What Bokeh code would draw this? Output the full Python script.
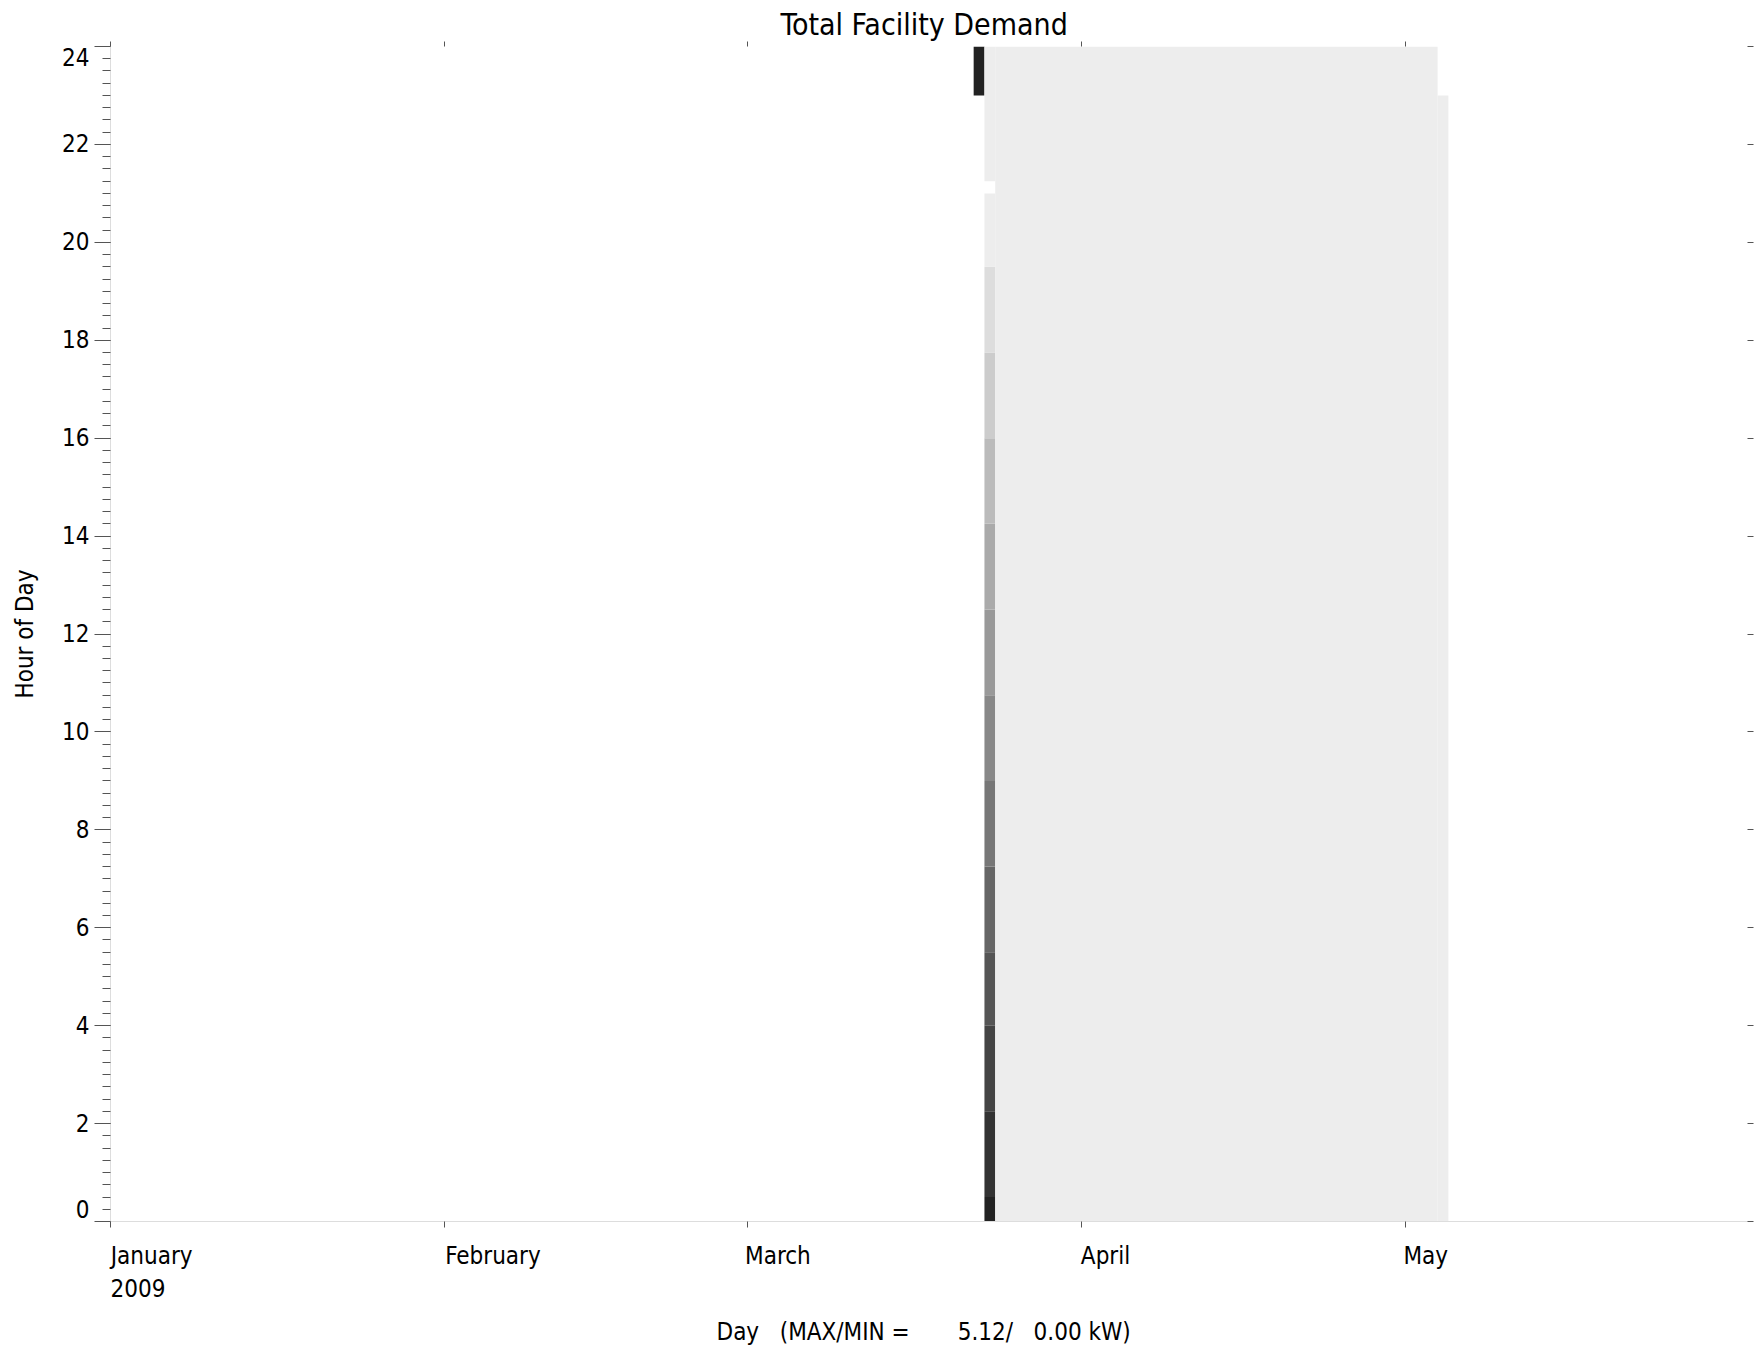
import pandas as pd
from bokeh.plotting import figure
from bokeh.models import (ColumnDataSource, LinearColorMapper, FixedTicker,
                          LinearAxis, Range1d)
from bokeh.embed import file_html
from bokeh.resources import INLINE

# ---------------- data ----------------
year_start = "2009-01-01"
range_end = "2009-06-02"

month_starts = ["2009-01-01", "2009-02-01", "2009-03-01", "2009-04-01", "2009-05-01"]
month_labels = ["January", "February", "March", "April", "May"]
year_label = "2009"

hour_ticks = [0, 2, 4, 6, 8, 10, 12, 14, 16, 18, 20, 22, 24]

# blocks of cells: first day, last day (inclusive), hour from, hour to, demand (kW)
day_from = ["2009-03-22", "2009-03-23", "2009-03-23", "2009-03-23", "2009-03-23",
            "2009-03-23", "2009-03-23", "2009-03-23", "2009-03-23", "2009-03-23",
            "2009-03-23", "2009-03-23", "2009-03-23", "2009-03-23", "2009-03-23",
            "2009-03-24", "2009-05-04"]
day_to = ["2009-03-22", "2009-03-23", "2009-03-23", "2009-03-23", "2009-03-23",
          "2009-03-23", "2009-03-23", "2009-03-23", "2009-03-23", "2009-03-23",
          "2009-03-23", "2009-03-23", "2009-03-23", "2009-03-23", "2009-03-23",
          "2009-05-03", "2009-05-04"]
hour_from = [23.0, 0.0, 0.5, 2.25, 4.0, 5.5, 7.25, 9.0, 10.75, 12.5, 14.25, 16.0,
             17.75, 19.5, 21.25, 0.0, 0.0]
hour_to = [24.0, 0.5, 2.25, 4.0, 5.5, 7.25, 9.0, 10.75, 12.5, 14.25, 16.0, 17.75,
           19.5, 21.0, 24.0, 24.0, 23.0]
demand_kw = [5.12, 4.95, 4.6, 4.2, 3.8, 3.4, 3.0, 2.55, 2.15, 1.7, 1.3, 0.85,
             0.45, 0.0, 0.0, 0.0, 0.0]

kw_max = 5.12
kw_min = 0.00

# ---------------- build ----------------
t0 = pd.Timestamp(year_start)
def dnum(s):
    return (pd.Timestamp(s) - t0).days

src = ColumnDataSource(dict(
    left=[dnum(d) for d in day_from],
    right=[dnum(d) + 1 for d in day_to],
    bottom=hour_from,
    top=hour_to,
    kw=demand_kw,
))

greys = ["#ededed", "#dddddd", "#cccccc", "#bbbbbb", "#aaaaaa", "#999999", "#888888",
         "#777777", "#666666", "#555555", "#444444", "#333333", "#222222"]
mapper = LinearColorMapper(palette=greys, low=kw_min, high=kw_max)

FONT = "Liberation Sans Narrow, DejaVu Sans Condensed, Liberation Sans, sans-serif"
LBL = "24px"
x_end = dnum(range_end)
NB = "\u00a0"

p = figure(frame_width=1640, frame_height=1175,
           min_border_left=110, min_border_right=8, min_border_top=46, min_border_bottom=10,
           x_range=Range1d(0, x_end), y_range=Range1d(0, 24),
           output_backend="svg", toolbar_location=None)

p.quad(left="left", right="right", bottom="bottom", top="top", source=src,
       fill_color={"field": "kw", "transform": mapper}, line_color=None)

p.xgrid.visible = False
p.ygrid.visible = False
p.outline_line_color = None
p.background_fill_color = "white"
p.border_fill_color = "white"

p.title.text = "Total Facility Demand"
p.title.align = "left"
p.title.offset = 670
p.title.text_font = FONT
p.title.text_font_size = "30px"
p.title.text_font_style = "normal"
p.title.text_color = "black"
p.title.standoff = 0

# left axis; the end labels (0 and 24) sit half a line inside the frame
ya = p.yaxis[0]
ya.ticker = FixedTicker(ticks=hour_ticks, minor_ticks=[i * 0.25 for i in range(97)])
ya.major_label_overrides = {0: "0\n", 24: "\n24"}
ya.major_label_text_line_height = 0.83
ya.major_tick_in = 0
ya.major_tick_out = 16
ya.minor_tick_in = 0
ya.minor_tick_out = 8
ya.major_tick_line_color = "#555555"
ya.minor_tick_line_color = "#555555"
ya.axis_line_color = "#dddddd"
ya.major_label_text_font = FONT
ya.major_label_text_font_size = LBL
ya.major_label_text_color = "black"
ya.major_label_standoff = 5
ya.axis_label = "Hour of Day"
ya.axis_label_text_font = FONT
ya.axis_label_text_font_size = LBL
ya.axis_label_text_font_style = "normal"
ya.axis_label_text_color = "black"
ya.axis_label_standoff = 20

# bottom axis: labels start at their tick (leading padding offsets the centring)
month_days = [dnum(m) for m in month_starts]
pad = [12, 14, 9, 7, 6]
labels = [NB * n + l for l, n in zip(month_labels, pad)]
labels[0] = labels[0] + "\n" + NB * 12 + year_label + NB * 4
xa = p.xaxis[0]
xa.ticker = FixedTicker(ticks=month_days, minor_ticks=[])
xa.major_label_overrides = {d: l for d, l in zip(month_days, labels)}
xa.major_tick_in = 0
xa.major_tick_out = 6
xa.minor_tick_out = 0
xa.major_tick_line_color = "#555555"
xa.axis_line_color = "#dddddd"
xa.major_label_text_font = FONT
xa.major_label_text_font_size = LBL
xa.major_label_text_color = "black"
xa.major_label_standoff = 14
xa.axis_label = (f"Day{NB*3}(MAX/MIN ={NB*7}{kw_max:.2f}/{NB*3}{kw_min:.2f} kW){NB*2}")
xa.axis_label_text_font = FONT
xa.axis_label_text_font_size = LBL
xa.axis_label_text_font_style = "normal"
xa.axis_label_text_color = "black"
xa.axis_label_standoff = 12

# top ticks (no labels)
top = LinearAxis(ticker=FixedTicker(ticks=month_days, minor_ticks=[]))
top.major_label_overrides = {d: "" for d in month_days}
top.major_tick_in = 0
top.major_tick_out = 5
top.minor_tick_out = 0
top.major_tick_line_color = "#555555"
top.axis_line_color = None
top.major_label_standoff = 0
p.add_layout(top, "above")

# right ticks (no labels)
right = LinearAxis(ticker=FixedTicker(ticks=hour_ticks, minor_ticks=[]))
right.major_label_overrides = {h: "" for h in hour_ticks}
right.major_tick_in = 3
right.major_tick_out = 3
right.minor_tick_out = 0
right.major_tick_line_color = "#555555"
right.axis_line_color = None
right.major_label_standoff = 0
p.add_layout(right, "right")

open("out.html", "w").write(file_html(p, INLINE))
